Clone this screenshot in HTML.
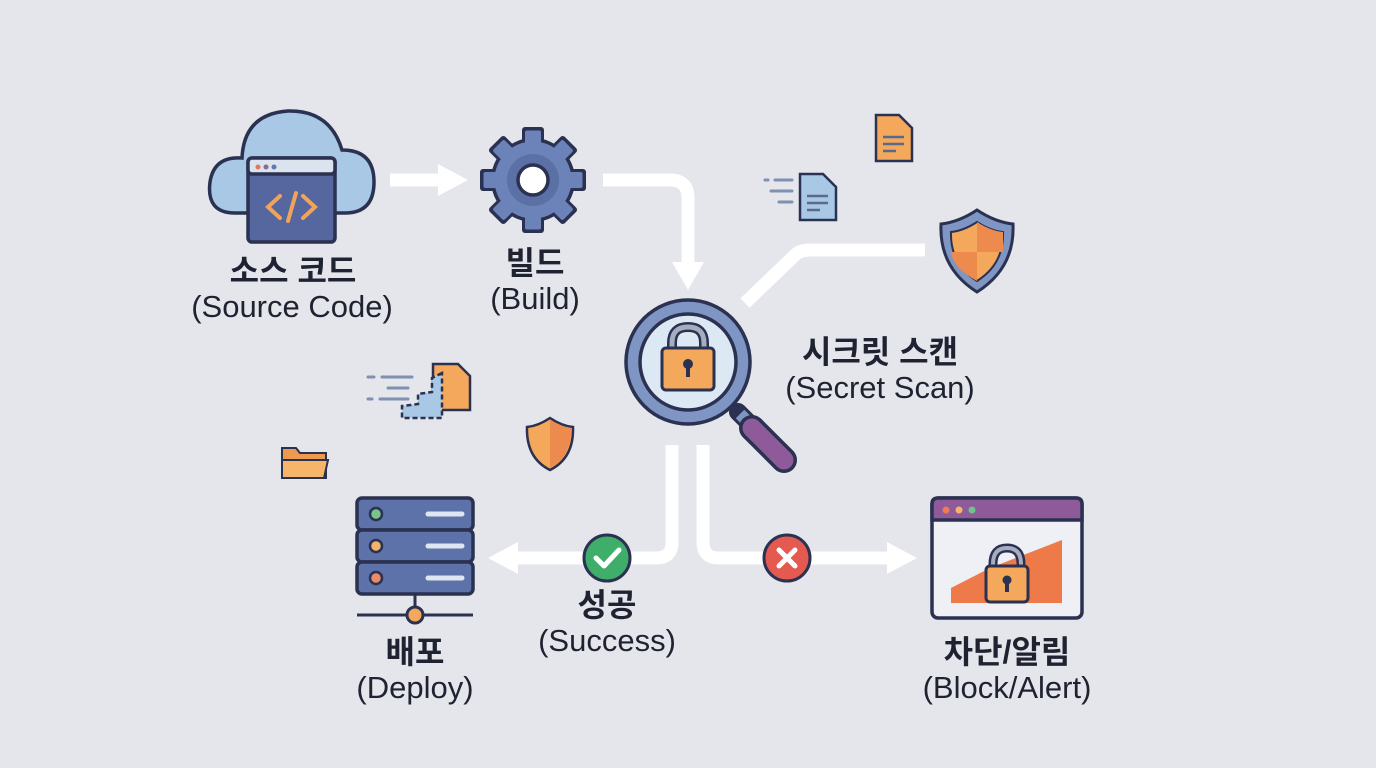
<!DOCTYPE html>
<html><head><meta charset="utf-8"><style>
html,body{margin:0;padding:0;background:#e4e6ec;}
svg{display:block;}
text{font-family:"Liberation Sans","Noto Sans CJK KR",sans-serif;fill:#1f2230;text-anchor:middle;}
.k{font-weight:bold;font-size:32px;}
.e{font-size:31px;}
</style></head><body>
<svg width="1376" height="768" viewBox="0 0 1376 768" xmlns="http://www.w3.org/2000/svg">
<rect width="1376" height="768" fill="#e4e6ec"/>
<g fill="none" stroke="#ffffff" stroke-width="13" stroke-linecap="butt">
<line x1="390" y1="180" x2="440" y2="180"/>
<path d="M603 180 H670 Q688 180 688 198 V265"/>
<path d="M745 303 L795 255 Q800 250 810 250 H925"/>
<path d="M672 445 V542 Q672 558 656 558 H515"/>
<path d="M703 445 V542 Q703 558 719 558 H890"/>
</g>
<g fill="#ffffff">
<polygon points="438,164 468,180 438,196"/>
<polygon points="672,262 704,262 688,290"/>
<polygon points="518,542 518,574 488,558"/>
<polygon points="887,542 887,574 917,558"/>
</g>
<g stroke="#2b3150" stroke-width="3.5">
<path d="M235 213 Q206 213 210 182 Q214 156 242 158 Q244 114 288 111 Q330 110 342 150 Q374 150 374 182 Q374 213 345 213 Z" fill="#a9c8e6"/>
<rect x="248" y="158" width="87" height="84" rx="4" fill="#56679f"/>
<rect x="248" y="158" width="87" height="16" rx="4" fill="#dbe3ef"/>
</g>
<circle cx="258" cy="167" r="2.5" fill="#e07a5a"/><circle cx="266" cy="167" r="2.5" fill="#8a6a8a"/><circle cx="274" cy="167" r="2.5" fill="#5a7ab0"/>
<g stroke="#f1a35a" stroke-width="4" fill="none" stroke-linecap="round">
<polyline points="280,196 268,207 280,218"/><polyline points="303,196 315,207 303,218"/><line x1="296" y1="193" x2="288" y2="221"/>
</g>
<g transform="translate(533,180)">
<g fill="#2b3150">
<circle r="42"/>
<g id="t"><rect x="-11" y="-53" width="22" height="24" rx="3"/></g>
<use href="#t" transform="rotate(45)"/><use href="#t" transform="rotate(90)"/><use href="#t" transform="rotate(135)"/><use href="#t" transform="rotate(180)"/><use href="#t" transform="rotate(225)"/><use href="#t" transform="rotate(270)"/><use href="#t" transform="rotate(315)"/>
</g>
<g fill="#6b83b8">
<circle r="38.5"/>
<g id="t2"><rect x="-8" y="-49.5" width="16" height="22" rx="2"/></g>
<use href="#t2" transform="rotate(45)"/><use href="#t2" transform="rotate(90)"/><use href="#t2" transform="rotate(135)"/><use href="#t2" transform="rotate(180)"/><use href="#t2" transform="rotate(225)"/><use href="#t2" transform="rotate(270)"/><use href="#t2" transform="rotate(315)"/>
</g>
<circle r="26" fill="#5b70a5"/>
<circle r="15" fill="#ffffff" stroke="#2b3150" stroke-width="3.5"/>
</g>
<line x1="738" y1="412" x2="752" y2="426" stroke="#2b3150" stroke-width="18" stroke-linecap="round"/>
<line x1="740" y1="414" x2="750" y2="424" stroke="#7f96c4" stroke-width="12"/>
<line x1="752" y1="428" x2="784" y2="460" stroke="#2b3150" stroke-width="26" stroke-linecap="round"/>
<line x1="752" y1="428" x2="784" y2="460" stroke="#8e5a9a" stroke-width="19" stroke-linecap="round"/>
<circle cx="688" cy="362" r="62" fill="#7f96c4" stroke="#2b3150" stroke-width="3.5"/>
<circle cx="688" cy="362" r="48" fill="#dce8f4" stroke="#2b3150" stroke-width="3.5"/>
<path d="M672 352 V343 Q672 327 688 327 Q704 327 704 343 V352" fill="none" stroke="#2b3150" stroke-width="10"/>
<path d="M672 352 V343 Q672 327 688 327 Q704 327 704 343 V352" fill="none" stroke="#a6adbf" stroke-width="5"/>
<rect x="662" y="348" width="52" height="42" rx="4" fill="#f4a85c" stroke="#2b3150" stroke-width="3"/>
<circle cx="688" cy="364" r="5" fill="#2b3150"/><rect x="686" y="366" width="4" height="11" fill="#2b3150"/>
<g stroke="#2b3150" stroke-width="2.5">
<path d="M876 115 H899 L912 128 V161 H876 Z" fill="#f4a85c"/>
<path d="M800 174 H823 L836 187 V220 H800 Z" fill="#a9c8e6"/>
</g>
<g stroke="#5a6a8a" stroke-width="2.5">
<line x1="883" y1="137" x2="904" y2="137"/><line x1="883" y1="144" x2="904" y2="144"/><line x1="883" y1="151" x2="896" y2="151"/>
<line x1="807" y1="196" x2="828" y2="196"/><line x1="807" y1="203" x2="828" y2="203"/><line x1="807" y1="210" x2="820" y2="210"/>
</g>
<g stroke="#8090b0" stroke-width="3" stroke-linecap="round">
<line x1="765" y1="180" x2="768" y2="180"/><line x1="775" y1="180" x2="792" y2="180"/><line x1="771" y1="191" x2="792" y2="191"/><line x1="779" y1="202" x2="792" y2="202"/>
<line x1="368" y1="377" x2="374" y2="377"/><line x1="382" y1="377" x2="412" y2="377"/><line x1="388" y1="388" x2="408" y2="388"/><line x1="368" y1="399" x2="372" y2="399"/><line x1="380" y1="399" x2="408" y2="399"/>
</g>
<path d="M977 210 Q995 222 1013 224 Q1015 268 977 292 Q939 268 941 224 Q959 222 977 210 Z" fill="#7f96c4" stroke="#2b3150" stroke-width="3"/>
<path d="M977 222 Q991 231 1003 232 Q1004 264 977 281 Q950 264 951 232 Q963 231 977 222 Z" fill="#f4a85c" stroke="#2b3150" stroke-width="2"/>
<path d="M977 222 Q991 231 1003 232 L1003 252 L977 252 Z" fill="#ed8a4e"/>
<path d="M977 252 L951 252 Q953 268 977 281 Z" fill="#ed8a4e"/>
<path d="M433 364 H458 L470 376 V410 H433 Z" fill="#f4a85c" stroke="#2b3150" stroke-width="2.5"/>
<path d="M442 373 L432 378 V392 L418 394 V404 L402 406 V418 L442 418 Z" fill="#a9c8e6" stroke="#2b3150" stroke-width="2.5" stroke-dasharray="5 3"/>
<path d="M550 418 Q562 426 573 427 Q574 458 550 470 Q526 458 527 427 Q538 426 550 418 Z" fill="#f4a85c" stroke="#2b3150" stroke-width="2.5"/>
<path d="M550 420 Q562 427 571 428 Q572 456 550 468 Z" fill="#ed8a4e"/>
<path d="M282 448 H296 L300 453 H326 V478 H282 Z" fill="#ed9a4e" stroke="#2b3150" stroke-width="2"/>
<path d="M282 460 H328 L324 478 H282 Z" fill="#f7b56a" stroke="#2b3150" stroke-width="2"/>
<g stroke="#2b3150" stroke-width="3.5" fill="#5d72a8">
<rect x="357" y="498" width="116" height="32" rx="5"/>
<rect x="357" y="530" width="116" height="32" rx="5"/>
<rect x="357" y="562" width="116" height="32" rx="5"/>
</g>
<g stroke="#2b3150" stroke-width="2.5">
<circle cx="376" cy="514" r="6" fill="#7ac68a"/><circle cx="376" cy="546" r="6" fill="#f4b26a"/><circle cx="376" cy="578" r="6" fill="#ee8a6a"/>
</g>
<g stroke="#dfe6f2" stroke-width="5" stroke-linecap="round">
<line x1="428" y1="514" x2="462" y2="514"/><line x1="428" y1="546" x2="462" y2="546"/><line x1="428" y1="578" x2="462" y2="578"/>
</g>
<line x1="415" y1="594" x2="415" y2="610" stroke="#2b3150" stroke-width="3"/>
<line x1="357" y1="615" x2="473" y2="615" stroke="#2b3150" stroke-width="3"/>
<circle cx="415" cy="615" r="8" fill="#f4a85c" stroke="#2b3150" stroke-width="3"/>
<circle cx="607" cy="558" r="23" fill="#3fae6a" stroke="#2b3150" stroke-width="3"/>
<polyline points="596,558 604,566 619,550" fill="none" stroke="#fff" stroke-width="5" stroke-linecap="round" stroke-linejoin="round"/>
<circle cx="787" cy="558" r="23" fill="#e45a50" stroke="#2b3150" stroke-width="3"/>
<g stroke="#fff" stroke-width="5" stroke-linecap="round"><line x1="779" y1="550" x2="795" y2="566"/><line x1="795" y1="550" x2="779" y2="566"/></g>
<rect x="932" y="498" width="150" height="120" rx="6" fill="#eef0f5" stroke="#2b3150" stroke-width="3.5"/>
<path d="M932 520 V504 Q932 498 938 498 H1076 Q1082 498 1082 504 V520 Z" fill="#8e5a9a" stroke="#2b3150" stroke-width="3.5"/>
<circle cx="946" cy="510" r="3.5" fill="#ee7a5a"/><circle cx="959" cy="510" r="3.5" fill="#f4b26a"/><circle cx="972" cy="510" r="3.5" fill="#6ac68a"/>
<polygon points="951,603 951,588 990,568 1062,540 1062,603" fill="#ed7a48"/>
<path d="M993 572 V564 Q993 548 1007 548 Q1021 548 1021 564 V572" fill="none" stroke="#2b3150" stroke-width="9"/>
<path d="M993 572 V564 Q993 548 1007 548 Q1021 548 1021 564 V572" fill="none" stroke="#a6adbf" stroke-width="4"/>
<rect x="986" y="566" width="42" height="36" rx="4" fill="#f4a85c" stroke="#2b3150" stroke-width="3"/>
<circle cx="1007" cy="580" r="4.5" fill="#2b3150"/><rect x="1005" y="582" width="4" height="10" fill="#2b3150"/>
<text class="k" x="293" y="282">소스 코드</text>
<text class="e" x="292" y="317">(Source Code)</text>
<text class="k" x="535" y="274">빌드</text>
<text class="e" x="535" y="309">(Build)</text>
<text class="k" x="880" y="363">시크릿 스캔</text>
<text class="e" x="880" y="398">(Secret Scan)</text>
<text class="k" x="607" y="616">성공</text>
<text class="e" x="607" y="651">(Success)</text>
<text class="k" x="415" y="663">배포</text>
<text class="e" x="415" y="698">(Deploy)</text>
<text class="k" x="1007" y="663">차단/알림</text>
<text class="e" x="1007" y="698">(Block/Alert)</text>
</svg>
</body></html>
